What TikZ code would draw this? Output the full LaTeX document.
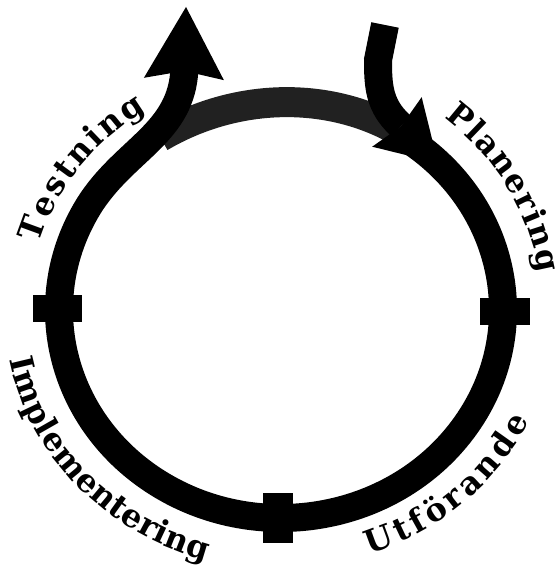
\documentclass[tikz,border=0pt]{standalone}
\usepackage{fontspec}
\setmainfont{DejaVu Serif}
\newfontfamily\phasefont{DejaVu Serif}
\usetikzlibrary{calc, arrows.meta, decorations.text}

\begin{document}
\begin{tikzpicture}[
  x=1pt, y=1pt,
  ring/.style={draw=black, line width=28pt},
  bridge/.style={draw=black!87, line width=30pt},
  tickbox/.style={fill=black, inner sep=0pt, outer sep=0pt},
  phase/.style 2 args={decorate, decoration={text along path, text align=center,
    text={|\phasefont\bfseries\fontsize{32}{32}\selectfont\kern#2|#1}}},
  >=Stealth
]
  \useasboundingbox (0,0) rectangle (557,565);
  \coordinate (mid) at (281,255);

  % gray bridge between the two ends
  \draw[bridge] (160,428) .. controls (235,472) and (325,474) .. (395,436);

  % the cycle, ending in the upward arrow
  \draw[ring, -{Stealth[length=72pt, width=80pt, inset=8pt, line width=0pt]}]
    (mid) ++(55:222 and 208)
    arc[start angle=55, end angle=-210, x radius=222, y radius=208]
    .. controls +(58:65) and (178,430) .. (184,490) -- (186,558);

  % the start, coming down from the top
  \coordinate (entry) at ($(mid)+(45:222 and 208)$);
  \draw[ring, -{Stealth[length=58pt, width=70pt, inset=6pt, line width=0pt]}]
    (385,540) -- (378,505) to[out=-90, in=133] (396,444) -- (entry);

  % marks between the phases
  \node[tickbox, minimum width=49pt, minimum height=27pt] (tickL) at (57.5,256.5) {};
  \node[tickbox, minimum width=50pt, minimum height=27pt] (tickR) at (505,253.5) {};
  \node[tickbox, minimum width=30pt, minimum height=50pt] (tickB) at (278,47) {};

  % phase names
  \path[phase={Testning}{2.4pt}] (mid) ++(172:252 and 236)
    arc[start angle=172, end angle=115, x radius=252, y radius=236];
  \path[phase={Planering}{1.4pt}] (mid) ++(60:261 and 246)
    arc[start angle=60, end angle=0, x radius=261, y radius=246];
  \path[phase={Utförande}{4pt}] (mid) ++(-80:275 and 258)
    arc[start angle=-80, end angle=-17, x radius=275, y radius=258];
  \path[phase={Implementering}{0.4pt}] (mid) ++(-175:277 and 260)
    arc[start angle=-175, end angle=-100, x radius=277, y radius=260];
\end{tikzpicture}
\end{document}
